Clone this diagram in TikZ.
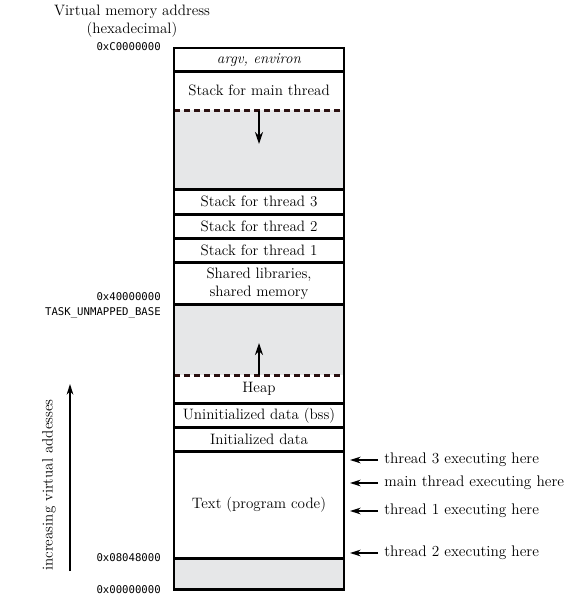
\documentclass[tikz,border=0pt]{standalone}
\usepackage{fontspec}
\newfontfamily\addrfont{DejaVu Sans Mono}
\usetikzlibrary{arrows.meta}
\definecolor{grayfill}{HTML}{E6E7E8}
\definecolor{dashcol}{HTML}{2A1010}
\begin{document}
\begin{tikzpicture}[x=0.75pt,y=-0.75pt,
  every node/.style={font=\fontsize{11.3}{13.5}\selectfont},
  row/.style={inner sep=0pt, minimum width=126.75pt, anchor=north, align=center},
  grayrow/.style={row, fill=grayfill},
  addr/.style={anchor=east, inner sep=0pt, font=\addrfont\fontsize{8}{9}\selectfont},
  side/.style={anchor=west, inner sep=0pt, font=\fontsize{11.5}{13.5}\selectfont},
  frame/.style={line width=1.6pt},
  sep/.style={line width=1.6pt},
  dsep/.style={line width=1.7pt, dashcol, dash pattern=on 4.5pt off 3pt},
  arr/.style={line width=1.3pt, -{Stealth[length=9pt,width=6pt]}},
  sarr/.style={line width=1pt, -{Stealth[length=8pt,width=5pt]}},
]
\useasboundingbox (0,0) rectangle (568,598);
% rows
\node[row, minimum height=17.25pt] (argv) at (259,48) {\itshape argv, environ};
\node[row, minimum height=29.25pt] (smain) at (259,71) {Stack for main thread};
\node[grayrow, minimum height=59.25pt] (gap1) at (259,110) {};
\node[row, minimum height=18.75pt] (st3) at (259,189) {Stack for thread 3};
\node[row, minimum height=18pt] (st2) at (259,214) {Stack for thread 2};
\node[row, minimum height=18pt] (st1) at (259,238) {Stack for thread 1};
\node[row, minimum height=31.5pt] (shlib) at (259,262) {\fontsize{11.3}{15}\selectfont Shared libraries,\\ shared memory};
\node[grayrow, minimum height=53.25pt] (gap2) at (259,304) {};
\node[row, minimum height=21pt] (heap) at (259,375) {Heap};
\node[row, minimum height=18pt] (bss) at (259,403) {Uninitialized data (bss)};
\node[row, minimum height=18pt] (init) at (259,427) {Initialized data};
\node[row, minimum height=80.25pt] (text) at (259,451) {Text (program code)};
\node[grayrow, minimum height=23.25pt] (zero) at (259,558) {};
% separators
\draw[sep] (argv.south west) -- (argv.south east);
\draw[dsep] (smain.south west) -- (smain.south east);
\draw[sep] (gap1.south west) -- (gap1.south east);
\draw[sep] (st3.south west) -- (st3.south east);
\draw[sep] (st2.south west) -- (st2.south east);
\draw[sep] (st1.south west) -- (st1.south east);
\draw[sep] (shlib.south west) -- (shlib.south east);
\draw[dsep] (gap2.south west) -- (gap2.south east);
\draw[sep] (heap.south west) -- (heap.south east);
\draw[sep] (bss.south west) -- (bss.south east);
\draw[sep] (init.south west) -- (init.south east);
\draw[sep] (text.south west) -- (text.south east);
\draw[frame] (argv.north west) rectangle (zero.south east);
% growth arrows
\coordinate (dtip) at (259,144);
\coordinate (utip) at (259,343);
\draw[arr] (smain.south) -- (dtip);
\draw[arr] (heap.north) -- (utip);
% title
\node[align=center] (title) at (132,21) {Virtual memory address\\(hexadecimal)};
% addresses
\node[addr] (aC) at (161,47) {0xC0000000};
\node[addr] (a4) at (161,297) {0x40000000};
\node[addr] (atask) at (161,313) {TASK\_UNMAPPED\_BASE};
\node[addr] (a08) at (161,558) {0x08048000};
\node[addr] (a00) at (161,590) {0x00000000};
% increasing arrow
\coordinate (incb) at (70,571);
\coordinate (inct) at (70,384);
\draw[sarr] (incb) -- (inct);
\node[rotate=90] (inclabel) at (49,485) {increasing virtual addesses};
% thread pointers
\node[side] (t3) at (384,460) {thread 3 executing here};
\node[side] (tm) at (384,483) {main thread executing here};
\node[side] (t1) at (384,511) {thread 1 executing here};
\node[side] (t2) at (384,553) {thread 2 executing here};
\foreach \n/\y in {t3/460,tm/483,t1/511,t2/553}{
  \coordinate (\n tip) at (350,\y);
  \draw[sarr] ([xshift=-4.5pt]\n.west) -- (\n tip);
}
\end{tikzpicture}
\end{document}
